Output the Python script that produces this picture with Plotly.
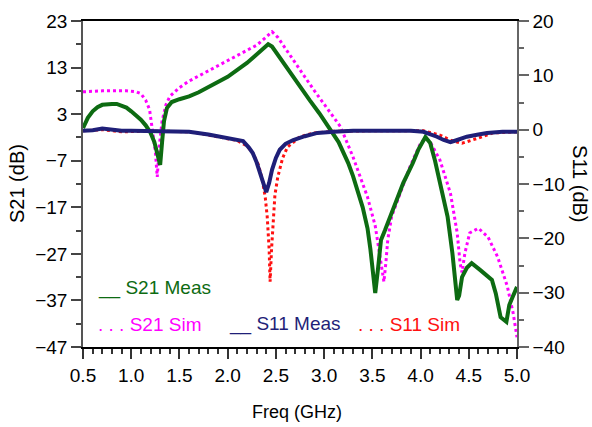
import plotly.graph_objects as go

# ---------------- data ----------------
s21_meas_f = [0.50, 0.55, 0.60, 0.65, 0.70, 0.75, 0.80, 0.85, 0.90, 0.95, 1.00, 1.05, 1.10, 1.15, 1.20,
              1.24, 1.27, 1.30, 1.32, 1.34, 1.37, 1.42, 1.50, 1.60, 1.70, 1.80, 1.90, 2.00, 2.10, 2.20,
              2.30, 2.38, 2.42, 2.46, 2.55, 2.65, 2.75, 2.85, 2.95, 3.05, 3.15, 3.25, 3.30, 3.40, 3.45,
              3.48, 3.51, 3.53, 3.56, 3.59, 3.63, 3.70, 3.76, 3.82, 3.92, 3.98, 4.05, 4.10, 4.15, 4.20,
              4.28, 4.33, 4.36, 4.38, 4.40, 4.43, 4.48, 4.53, 4.62, 4.74, 4.78, 4.83, 4.89, 4.92, 4.96, 5.00]
s21_meas_db = [0.0, 2.2, 3.6, 4.5, 5.0, 5.2, 5.2, 5.2, 4.9, 4.4, 3.6, 2.8, 1.8, 0.6, -1.0,
               -3.0, -5.5, -7.9, -3.0, 1.5, 4.3, 5.6, 6.2, 6.8, 7.7, 8.8, 9.9, 11.0, 12.5, 14.0,
               15.8, 17.4, 18.0, 17.5, 14.8, 12.0, 9.0, 6.0, 3.2, 0.2, -3.0, -7.5, -10.3, -17.0, -21.5,
               -26.0, -31.5, -35.4, -30.0, -24.0, -22.0, -18.2, -15.0, -11.8, -7.5, -4.5, -1.9, -3.2, -7.0, -11.8,
               -19.0, -26.8, -33.0, -36.9, -36.0, -32.0, -30.0, -29.0, -30.5, -32.6, -35.5, -40.6, -41.6, -38.0, -36.0, -34.1]

s21_sim_f = [0.50, 0.70, 0.95, 1.05, 1.10, 1.15, 1.19, 1.22, 1.25, 1.27, 1.29, 1.32, 1.36, 1.40, 1.50,
             1.60, 1.70, 1.80, 1.90, 2.00, 2.10, 2.20, 2.30, 2.38, 2.46, 2.52, 2.60, 2.70, 2.80, 2.90,
             3.00, 3.06, 3.17, 3.30, 3.45, 3.53, 3.58, 3.62, 3.64, 3.66, 3.70, 3.79, 3.89, 4.00, 4.05,
             4.10, 4.20, 4.31, 4.38, 4.41, 4.43, 4.46, 4.51, 4.60, 4.70, 4.80, 4.90, 4.96, 5.00]
s21_sim_db = [7.8, 8.0, 8.0, 7.8, 7.4, 6.0, 4.0, 0.0, -5.0, -10.5, -4.0, 1.5, 5.0, 6.8, 8.7,
              10.1, 11.2, 12.3, 13.4, 14.5, 15.5, 16.6, 17.8, 19.2, 20.7, 19.5, 17.0, 14.0, 11.0, 8.0,
              5.2, 3.5, 0.3, -6.2, -14.8, -21.0, -28.3, -33.0, -29.0, -24.0, -19.0, -14.0, -8.3, -3.2, -2.2,
              -3.0, -6.8, -14.0, -22.5, -29.0, -31.0, -26.8, -22.5, -21.5, -23.4, -27.7, -34.0, -39.7, -44.9]

s11_meas_f = [0.50, 0.60, 0.70, 0.80, 0.90, 1.00, 1.20, 1.40, 1.60, 1.80, 2.00, 2.10, 2.16, 2.22, 2.26,
              2.30, 2.34, 2.37, 2.40, 2.43, 2.46, 2.50, 2.54, 2.60, 2.68, 2.80, 2.93, 3.10, 3.30, 3.60,
              3.90, 4.03, 4.10, 4.17, 4.24, 4.31, 4.38, 4.48, 4.60, 4.69, 4.85, 5.00]
s11_meas_db = [-0.2, -0.1, 0.2, 0.0, -0.2, -0.2, -0.3, -0.3, -0.4, -0.9, -1.5, -1.8, -2.1, -3.3, -4.3,
               -6.0, -8.0, -10.0, -11.5, -9.8, -7.4, -5.2, -3.7, -2.6, -1.9, -1.2, -0.6, -0.4, -0.2, -0.2,
               -0.2, -0.4, -0.8, -1.3, -1.9, -2.3, -1.9, -1.3, -0.9, -0.6, -0.4, -0.4]

s11_sim_f = [0.50, 0.70, 0.90, 1.10, 1.40, 1.60, 1.80, 2.00, 2.10, 2.20, 2.26, 2.32, 2.36, 2.39, 2.41,
             2.43, 2.44, 2.455, 2.47, 2.49, 2.52, 2.57, 2.62, 2.75, 2.90, 3.10, 3.50, 3.90, 4.03, 4.20,
             4.32, 4.43, 4.51, 4.59, 4.75, 5.00]
s11_sim_db = [-0.2, 0.0, -0.4, -0.3, -0.3, -0.4, -1.0, -1.6, -2.0, -3.0, -4.3, -6.5, -9.3, -12.5, -16.0,
              -22.0, -28.0, -22.0, -16.6, -12.0, -8.7, -5.2, -3.2, -1.3, -0.6, -0.3, -0.2, -0.2, -0.2, -1.0,
              -2.0, -2.5, -2.1, -1.6, -0.6, -0.4]

x_ticks = [0.5, 1.0, 1.5, 2.0, 2.5, 3.0, 3.5, 4.0, 4.5, 5.0]
x_tick_labels = ["0.5", "1.0", "1.5", "2.0", "2.5", "3.0", "3.5", "4.0", "4.5", "5.0"]
yl_ticks = [23, 13, 3, -7, -17, -27, -37, -47]
yr_ticks = [20, 10, 0, -10, -20, -30, -40]

GREEN = "#0d6b12"
MAGENTA = "#ff00ff"
NAVY = "#1f1f78"
RED = "#ff1010"
FONT = "Liberation Sans, Arial, sans-serif"

fig = go.Figure()
fig.add_trace(go.Scatter(x=s21_sim_f, y=s21_sim_db, mode="lines", name="S21 Sim",
                         line=dict(color=MAGENTA, width=3, dash="dot"), yaxis="y"))
fig.add_trace(go.Scatter(x=s21_meas_f, y=s21_meas_db, mode="lines", name="S21 Meas",
                         line=dict(color=GREEN, width=4), yaxis="y"))
fig.add_trace(go.Scatter(x=s11_sim_f, y=s11_sim_db, mode="lines", name="S11 Sim",
                         line=dict(color=RED, width=3, dash="dot"), yaxis="y2"))
fig.add_trace(go.Scatter(x=s11_meas_f, y=s11_meas_db, mode="lines", name="S11 Meas",
                         line=dict(color=NAVY, width=4), yaxis="y2"))

fig.update_layout(
    width=592, height=427,
    margin=dict(l=83, r=75, t=21, b=80),
    paper_bgcolor="white", plot_bgcolor="white",
    showlegend=False,
    font=dict(family=FONT, size=19, color="black"),
    xaxis=dict(range=[0.5, 5.0], tickvals=x_ticks, ticktext=x_tick_labels,
               showgrid=False, zeroline=False, showline=True, linecolor="black", linewidth=2,
               mirror=True, ticks="outside", ticklen=10, tickwidth=1.5, tickcolor="#333",
               minor=dict(dtick=0.1, tick0=0.5, ticks="outside", ticklen=5, tickcolor="#333", showgrid=False),
               tickfont=dict(size=19)),
    yaxis=dict(range=[-47, 23], tickvals=yl_ticks,
               showgrid=False, zeroline=False, showline=True, linecolor="#555", linewidth=1.5,
               ticks="outside", ticklen=10, tickwidth=1.5, tickcolor="#444",
               minor=dict(dtick=5, tick0=-47, ticks="outside", ticklen=5, tickcolor="#444", showgrid=False),
               tickfont=dict(size=19)),
    yaxis2=dict(range=[-40, 20], tickvals=yr_ticks, overlaying="y", side="right",
                showgrid=False, zeroline=False, showline=True, linecolor="#666", linewidth=1.5,
                ticks="outside", ticklen=10, tickwidth=1.5, tickcolor="#666",
                minor=dict(dtick=5, tick0=-40, ticks="outside", ticklen=5, tickcolor="#666", showgrid=False),
                tickfont=dict(size=19)),
)

ann = [
    dict(text="S21 (dB)", x=-0.152, y=0.5, textangle=-90, font=dict(size=20)),
    dict(text="S11 (dB)", x=1.145, y=0.5, textangle=90, font=dict(size=20)),
    dict(text="Freq (GHz)", x=0.493, y=-0.199, font=dict(size=18)),
]
for a in ann:
    fig.add_annotation(xref="paper", yref="paper", showarrow=False,
                       xanchor="center", yanchor="middle", **a)

legend_items = [
    ("__ S21 Meas", GREEN, 0.030, 0.180),
    (". . . S21 Sim", MAGENTA, 0.030, 0.070),
    ("__ S11 Meas", NAVY, 0.332, 0.070),
    (". . . S11 Sim", RED, 0.630, 0.070),
]
for txt, col, x, y in legend_items:
    fig.add_annotation(xref="paper", yref="paper", x=x, y=y, text=txt, showarrow=False,
                       xanchor="left", yanchor="middle", font=dict(size=19, color=col))

fig.write_html("out.html")
